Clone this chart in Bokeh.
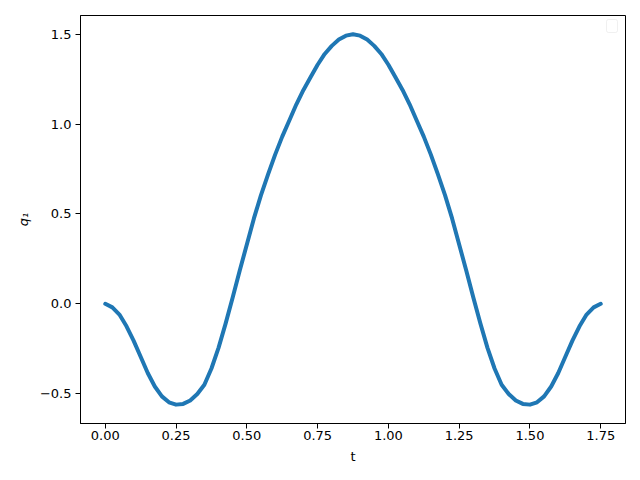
from bokeh.plotting import figure
from bokeh.models import FixedTicker, CustomJSTickFormatter, BoxAnnotation
from bokeh.embed import file_html
from bokeh.resources import INLINE

t = [0.000, 0.025, 0.050, 0.075, 0.100, 0.125, 0.150, 0.175, 0.200, 0.225,
     0.250, 0.275, 0.300, 0.325, 0.350, 0.375, 0.400, 0.425, 0.450, 0.475,
     0.500, 0.525, 0.550, 0.575, 0.600, 0.625, 0.650, 0.675, 0.700, 0.725,
     0.750, 0.775, 0.800, 0.825, 0.850, 0.875,
     0.900, 0.925, 0.950, 0.975, 1.000, 1.025, 1.050, 1.075, 1.100, 1.125,
     1.150, 1.175, 1.200, 1.225, 1.250, 1.275, 1.300, 1.325, 1.350, 1.375,
     1.400, 1.425, 1.450, 1.475, 1.500, 1.525, 1.550, 1.575, 1.600, 1.625,
     1.650, 1.675, 1.700, 1.725, 1.750]
q1 = [0.000, -0.020, -0.060, -0.125, -0.205, -0.295, -0.385, -0.460, -0.515, -0.548,
      -0.561, -0.557, -0.538, -0.502, -0.450, -0.360, -0.245, -0.110, 0.035, 0.185,
      0.330, 0.475, 0.605, 0.720, 0.830, 0.930, 1.020, 1.110, 1.190, 1.260,
      1.330, 1.390, 1.435, 1.470, 1.492, 1.500,
      1.492, 1.470, 1.435, 1.390, 1.330, 1.260, 1.190, 1.110, 1.020, 0.930,
      0.830, 0.720, 0.605, 0.475, 0.330, 0.185, 0.035, -0.110, -0.245, -0.360,
      -0.450, -0.502, -0.538, -0.557, -0.561, -0.548, -0.515, -0.460, -0.385, -0.295,
      -0.205, -0.125, -0.060, -0.020, 0.000]

x_ticks = [0.0, 0.25, 0.5, 0.75, 1.0, 1.25, 1.5, 1.75]
y_ticks = [-0.5, 0.0, 0.5, 1.0, 1.5]

p = figure(frame_width=545, frame_height=408, output_backend="svg", toolbar_location=None,
           x_range=(-0.0875, 1.8375), y_range=(-0.666, 1.604),
           min_border_left=80, min_border_right=1, min_border_top=15, min_border_bottom=49,
           background_fill_color="white", border_fill_color="white")
p.line(t, q1, line_color="#1f77b4", line_width=4, line_join="round", line_cap="round")

p.xgrid.visible = False
p.ygrid.visible = False
p.outline_line_color = "black"
p.outline_line_width = 1

p.xaxis.ticker = FixedTicker(ticks=x_ticks)
p.yaxis.ticker = FixedTicker(ticks=y_ticks)
p.xaxis.formatter = CustomJSTickFormatter(code="return tick.toFixed(2).replace('-', '\u2212');")
p.yaxis.formatter = CustomJSTickFormatter(code="return tick.toFixed(1).replace('-', '\u2212');")
p.xaxis.axis_label = "t"
p.yaxis.axis_label = "q\u2081"
p.yaxis.axis_label_text_font_style = "italic"
p.xaxis.axis_label_text_font_style = "normal"
for ax in (p.xaxis, p.yaxis):
    ax.axis_line_color = "black"
    ax.major_tick_line_color = "black"
    ax.major_tick_out = 5
    ax.major_tick_in = 0
    ax.minor_tick_line_color = None
    ax.major_label_text_font = "DejaVu Sans"
    ax.major_label_text_font_size = "13px"
    ax.major_label_text_color = "black"
    ax.axis_label_text_font = "DejaVu Sans"
    ax.axis_label_text_font_size = "13px"
    ax.axis_label_text_color = "black"
    ax.axis_label_standoff = 6
p.xaxis.major_label_standoff = 2
p.yaxis.major_label_standoff = 4

# empty legend box (matplotlib draws an empty legend frame)
p.add_layout(BoxAnnotation(left=606, right=617, top=19, bottom=32,
                           left_units="canvas", right_units="canvas",
                           top_units="canvas", bottom_units="canvas",
                           fill_color="white", fill_alpha=0.8,
                           line_color="#cccccc", line_width=1, border_radius=2))

open("out.html", "w").write(file_html(p, INLINE))
